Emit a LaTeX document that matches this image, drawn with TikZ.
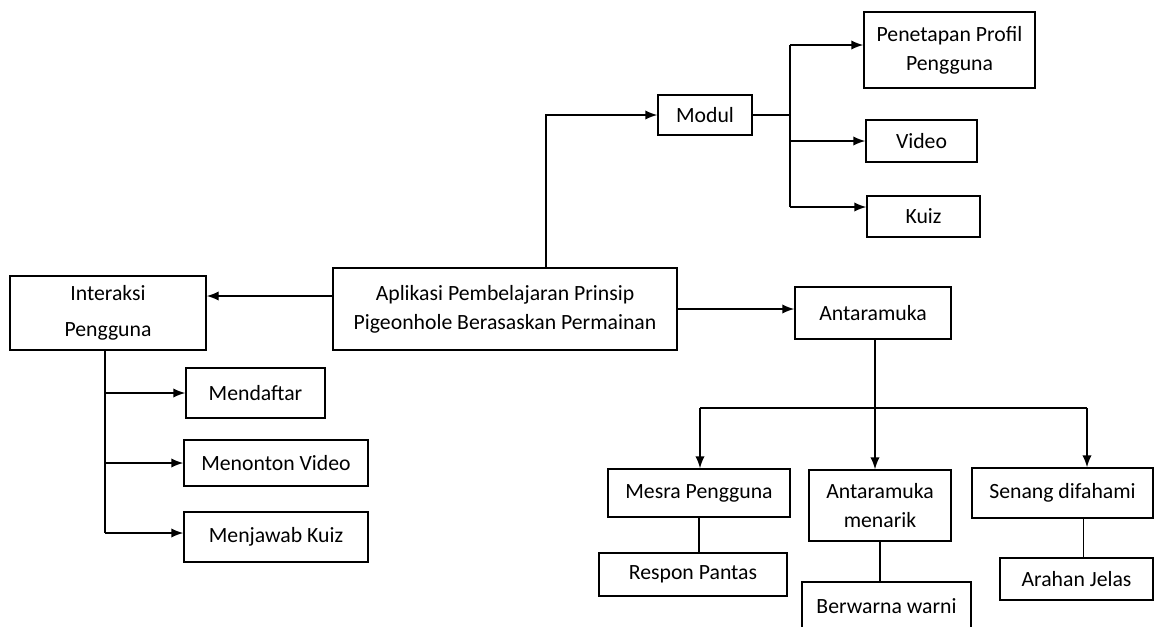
\documentclass[tikz,border=0pt]{standalone}
\usepackage{fontspec}
\setmainfont{Carlito}
\usetikzlibrary{calc}
\usetikzlibrary{arrows.meta}
\tikzset{%
  arr/.style = {-{Latex[length=9pt,width=7pt]},line width=1.1pt},
  link/.style = {line width=1.1pt},
  box/.style = {rectangle,draw,line width=1.1pt,inner sep=0pt,align=center,
        font=\fontsize{16.3}{22}\selectfont}
}
\begin{document}
\begin{tikzpicture}[x=0.75pt,y=-0.75pt]
\useasboundingbox (0,0) rectangle (1155,626);
% centre
\node[box,minimum width=258pt,minimum height=61.5pt] (main) at (505,309)
    {Aplikasi Pembelajaran Prinsip\\Pigeonhole Berasaskan Permainan};
% modul
\node[box,minimum width=70.5pt,minimum height=30pt] (modul) at (705,115) {Modul};
\node[box,minimum width=128.25pt,minimum height=57pt] (profil) at (949.5,50)
    {Penetapan Profil\\Pengguna};
\node[box,minimum width=83.25pt,minimum height=31.5pt] (video) at (921.5,141) {Video};
\node[box,minimum width=84.75pt,minimum height=30.75pt] (kuiz) at (923.5,216.5) {Kuiz};
% interaksi
\node[box,minimum width=147pt,minimum height=55.5pt] (interaksi) at (108,313)
    {Interaksi\\[5pt]Pengguna};
\node[box,minimum width=104.25pt,minimum height=37.5pt] (mendaftar) at (255.5,393) {Mendaftar};
\node[box,minimum width=138pt,minimum height=34.5pt] (menonton) at (276,463) {Menonton Video};
\node[box,minimum width=138pt,minimum height=37.5pt] (menjawab) at (276,537) {Menjawab Kuiz};
% antaramuka
\node[box,minimum width=117pt,minimum height=39pt] (antaramuka) at (873,313) {Antaramuka};
\node[box,minimum width=136.5pt,minimum height=36pt] (mesra) at (699,493) {Mesra Pengguna};
\node[box,minimum width=106.5pt,minimum height=53.25pt] (menarik) at (880,505.5)
    {Antaramuka\\menarik};
\node[box,minimum width=135.75pt,minimum height=37.5pt] (senang) at (1062.5,493) {Senang difahami};
\node[box,minimum width=141pt,minimum height=32.25pt] (respon) at (693,574.5) {Respon Pantas};
\node[box,minimum width=126.75pt,minimum height=36pt] (berwarna) at (886.5,606) {Berwarna warni};
\node[box,minimum width=114.75pt,minimum height=31.5pt] (arahan) at (1076.5,579) {Arahan Jelas};

% main -> modul
\draw[arr] ($(main.north)+(41,0)$) |- (modul.west);
\coordinate (mj) at (790,115);
\coordinate (m1) at (790,45);
\coordinate (m3) at (790,207);
\draw[link] (modul.east) -- (mj);
\draw[link] (m1) -- (m3);
\draw[arr] (m1) -- (m1 -| profil.west);
\draw[arr] (mj |- video.west) -- (video.west);
\draw[arr] (m3) -- (m3 -| kuiz.west);

% main -> interaksi
\draw[arr] ($(main.west)+(0,-13)$) -- ($(main.west -| interaksi.east)+(0,-13)$);
\coordinate (i3) at (105,533);
\draw[link] (interaksi.south -| i3) -- (i3);
\draw[arr] (i3 |- mendaftar.west) -- (mendaftar.west);
\draw[arr] (i3 |- menonton.west) -- (menonton.west);
\draw[arr] (i3) -- (i3 -| menjawab.west);

% main -> antaramuka
\draw[arr] (main.east) -- (main.east -| antaramuka.west);
\draw[arr] ($(antaramuka.south)+(2,0)$) -- ($(antaramuka.south |- menarik.north)+(2,0)$);
\coordinate (bl) at (700,408);
\coordinate (br) at (1087,408);
\draw[link] (bl) -- (br);
\draw[arr] (bl) -- (bl |- mesra.north);
\draw[arr] (br) -- (br |- senang.north);
\draw[link] (mesra.south) -- (mesra.south |- respon.north);
\draw[link] (menarik.south) -- (menarik.south |- berwarna.north);
\draw[link] ($(arahan.north)+(7,0)$) -- ($(arahan.north |- senang.south)+(7,0)$);
\end{tikzpicture}
\end{document}
